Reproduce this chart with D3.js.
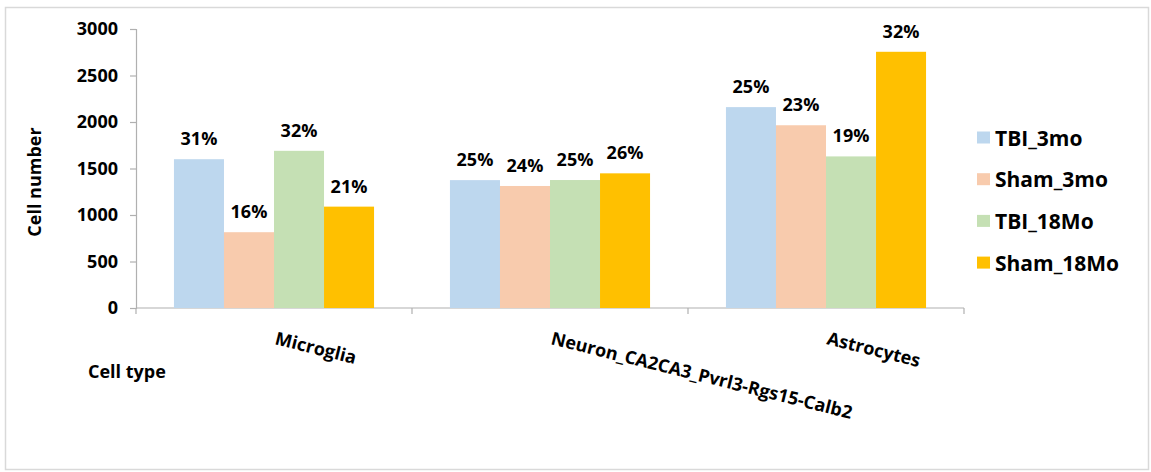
<!DOCTYPE html>
<html>
<head>
<meta charset="utf-8">
<script src="https://cdn.jsdelivr.net/npm/d3@7"></script>
<style>
  html, body { margin: 0; padding: 0; background: #fff; }
  text { font-family: "Open Sans", sans-serif; font-weight: 700; fill: #000; }
</style>
</head>
<body>
<svg id="chart" width="1151" height="472"></svg>
<script>
// Cell counts per cell type and group
const categories = ["Microglia", "Neuron_CA2CA3_Pvrl3-Rgs15-Calb2", "Astrocytes"];
const seriesNames = ["TBI_3mo", "Sham_3mo", "TBI_18Mo", "Sham_18Mo"];
const seriesColors = ["#bdd7ee", "#f8cbad", "#c5e0b4", "#ffc000"];
const tbi3mo   = [1600, 1375, 2160];
const sham3mo  = [815, 1312, 1965];
const tbi18mo  = [1690, 1376, 1630];
const sham18mo = [1090, 1448, 2755];
// Share of each group's cells within the group total
const pctTbi3mo   = ["31%", "25%", "25%"];
const pctSham3mo  = ["16%", "24%", "23%"];
const pctTbi18mo  = ["32%", "25%", "19%"];
const pctSham18mo = ["21%", "26%", "32%"];
const yTicks = [0, 500, 1000, 1500, 2000, 2500, 3000];

const values = [tbi3mo, sham3mo, tbi18mo, sham18mo];
const pcts = [pctTbi3mo, pctSham3mo, pctTbi18mo, pctSham18mo];

const FS = 18;
const svg = d3.select("#chart");

// outer frame
svg.append("rect")
  .attr("x", 5.5).attr("y", 7.5)
  .attr("width", 1143).attr("height", 462)
  .attr("fill", "none").attr("stroke", "#d9d9d9").attr("stroke-width", 1.5);

const plot = { left: 136, right: 964, top: 29, bottom: 308 };

const x0 = d3.scaleBand()
  .domain(categories)
  .range([plot.left, plot.right])
  .paddingInner(0.275)
  .paddingOuter(0.1375);

const x1 = d3.scaleBand()
  .domain(seriesNames)
  .range([0, x0.bandwidth()]);

const y = d3.scaleLinear()
  .domain([0, 3000])
  .range([plot.bottom, plot.top]);

const color = d3.scaleOrdinal().domain(seriesNames).range(seriesColors);

// y axis
const yAxis = svg.append("g")
  .attr("transform", `translate(${plot.left},0)`)
  .call(d3.axisLeft(y).tickValues(yTicks).tickFormat(d3.format("d")).tickSize(6).tickPadding(12));
yAxis.select(".domain").attr("stroke", "#b0b0b0").attr("stroke-width", 1.2);
yAxis.selectAll(".tick line").attr("stroke", "#b0b0b0").attr("stroke-width", 1.2);
yAxis.selectAll(".tick text")
  .attr("font-size", FS).attr("font-family", "'Open Sans', sans-serif")
  .attr("font-weight", 700).attr("fill", "#000");

// x axis: boundary ticks between categories
const bounds = [plot.left].concat(categories.map(c => x0(c) + x0.bandwidth() + x0.step() * x0.paddingInner() / 2));
bounds[bounds.length - 1] = plot.right;
svg.append("line")
  .attr("x1", plot.left).attr("x2", plot.right)
  .attr("y1", y(0)).attr("y2", y(0))
  .attr("stroke", "#b0b0b0").attr("stroke-width", 1.2);
svg.selectAll(".xtick").data(bounds).enter().append("line")
  .attr("class", "xtick")
  .attr("x1", d => d).attr("x2", d => d)
  .attr("y1", y(0)).attr("y2", y(0) + 6)
  .attr("stroke", "#b0b0b0").attr("stroke-width", 1.2);

// bars
const groups = svg.selectAll(".cat").data(categories).enter().append("g")
  .attr("class", "cat")
  .attr("transform", d => `translate(${x0(d)},0)`);

groups.each(function (cat, ci) {
  const g = d3.select(this);
  seriesNames.forEach((s, si) => {
    const v = values[si][ci];
    g.append("rect")
      .attr("x", x1(s))
      .attr("y", y(v))
      .attr("width", x1.bandwidth())
      .attr("height", y(0) - y(v))
      .attr("fill", color(s));
    g.append("text")
      .attr("x", x1(s) + x1.bandwidth() / 2)
      .attr("y", y(v) - 14)
      .attr("text-anchor", "middle")
      .attr("font-size", FS)
      .text(pcts[si][ci]);
  });
});

// category labels, slanted
svg.selectAll(".catlabel").data(categories).enter().append("text")
  .attr("class", "catlabel")
  .attr("transform", d => `translate(${x0(d) + x0.bandwidth() / 2},344) rotate(14)`)
  .attr("font-size", FS)
  .text(d => d);

// axis titles
svg.append("text")
  .attr("x", 88).attr("y", 378)
  .attr("font-size", FS)
  .text("Cell type");

svg.append("text")
  .attr("transform", "translate(41,182) rotate(-90)")
  .attr("text-anchor", "middle")
  .attr("font-size", FS)
  .text("Cell number");

// legend
const legend = svg.selectAll(".leg").data(seriesNames).enter().append("g")
  .attr("class", "leg")
  .attr("transform", (d, i) => `translate(977,${137.5 + i * 41.7})`);
legend.append("rect")
  .attr("x", 0).attr("y", -6)
  .attr("width", 13).attr("height", 12)
  .attr("fill", d => color(d));
legend.append("text")
  .attr("x", 18).attr("y", 8)
  .attr("font-size", 21)
  .text(d => d);
</script>
</body>
</html>
